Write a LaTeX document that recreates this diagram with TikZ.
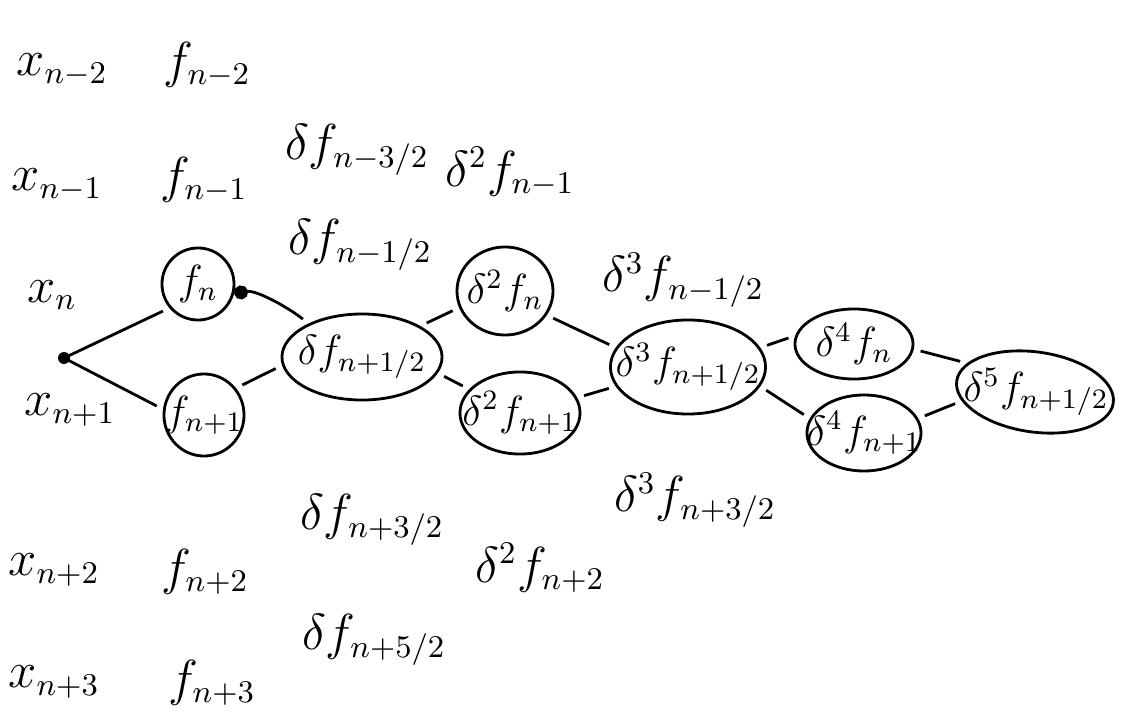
\documentclass[tikz,border=0pt]{standalone}
\usetikzlibrary{arrows.meta,shapes.geometric}
\begin{document}
\begin{tikzpicture}[x=0.01cm,y=-0.01cm,
  lbl/.style={inner sep=1pt,font=\fontsize{13.5}{16}\selectfont},
  inlbl/.style={inner sep=1pt,font=\fontsize{12}{14}\selectfont},
  ring/.style={draw,line width=0.8pt,shape=ellipse,inner sep=0pt},
  link/.style={line width=0.8pt,shorten <=2pt,shorten >=2pt}]
\useasboundingbox (0,0) rectangle (1144,718);
% column x
\node[lbl] (xm2) at (62,70) {$x_{n-2}$};
\node[lbl] (xm1) at (57,185) {$x_{n-1}$};
\node[lbl] (x0) at (52,295) {$x_{n}$};
\node[lbl] (x1) at (70,410) {$x_{n+1}$};
\node[lbl] (x2) at (54,570) {$x_{n+2}$};
\node[lbl] (x3) at (54,682) {$x_{n+3}$};
% column f
\node[lbl] (fm2) at (207,65) {$f_{n-2}$};
\node[lbl] (fm1) at (204,180) {$f_{n-1}$};
\node[ring,minimum width=0.72cm,minimum height=0.72cm] (f0o) at (198,284) {};
\node[inlbl] (f0) at (198,284) {$f_{n}$};
\node[ring,minimum width=0.8cm,minimum height=0.82cm] (f1o) at (204,415) {};
\node[inlbl] (f1) at (204,415) {$f_{n+1}$};
\node[lbl] (f2) at (205,572) {$f_{n+2}$};
\node[lbl] (f3) at (212,683) {$f_{n+3}$};
% first differences
\node[lbl] (dm32) at (357,150) {$\delta f_{n-3/2}$};
\node[lbl] (dm12) at (360,245) {$\delta f_{n-1/2}$};
\node[ring,minimum width=1.6cm,minimum height=0.86cm] (d12o) at (362,357) {};
\node[inlbl] (d12) at (362,357) {$\delta f_{n+1/2}$};
\node[lbl] (d32) at (372,520) {$\delta f_{n+3/2}$};
\node[lbl] (d52) at (374,640) {$\delta f_{n+5/2}$};
% second differences
\node[lbl] (em1) at (510,172) {$\delta^2 f_{n-1}$};
\node[ring,minimum width=0.96cm,minimum height=0.88cm] (e0o) at (505,291) {};
\node[inlbl] (e0) at (505,291) {$\delta^2 f_{n}$};
\node[ring,minimum width=1.2cm,minimum height=0.82cm] (e1o) at (520,413) {};
\node[inlbl] (e1) at (520,413) {$\delta^2 f_{n+1}$};
\node[lbl] (e2) at (540,568) {$\delta^2 f_{n+2}$};
% third differences
\node[lbl] (gm12) at (683,280) {$\delta^3 f_{n-1/2}$};
\node[ring,minimum width=1.55cm,minimum height=0.94cm] (g12o) at (688,367) {};
\node[inlbl] (g12) at (688,367) {$\delta^3 f_{n+1/2}$};
\node[lbl] (g32) at (695,500) {$\delta^3 f_{n+3/2}$};
% fourth
\node[ring,minimum width=1.18cm,minimum height=0.7cm] (h0o) at (854,344) {};
\node[inlbl] (h0) at (854,344) {$\delta^4 f_{n}$};
\node[ring,minimum width=1.14cm,minimum height=0.76cm] (h1o) at (864,433) {};
\node[inlbl] (h1) at (864,433) {$\delta^4 f_{n+1}$};
% fifth
\node[ring,minimum width=1.58cm,minimum height=0.8cm,rotate=-8] (k12o) at (1035,392) {};
\node[inlbl] (k12) at (1036,392) {$\delta^5 f_{n+1/2}$};
% dot
\coordinate (dot) at (64,358);
\fill (dot) circle [radius=6];
% connectors
\draw[link,shorten <=0pt] (dot) -- (f0o.220);
\draw[link,shorten <=0pt] (dot) -- (f1o.172);
\draw[link,shorten >=0pt,-{Circle[length=4pt]}] (d12o.148) .. controls +(-20,-16) and +(22,-4) .. (f0o.-15);
\draw[link] (f1o.40) -- (d12o.186);
\draw[link] (d12o.28) -- (e0o.200);
\draw[link] (d12o.-12) -- (e1o.155);
\draw[link] (e0o.-30) -- (g12o.165);
\draw[link] (e1o.15) -- (g12o.195);
\draw[link] (g12o.15) -- (h0o.172);
\draw[link] (g12o.-15) -- (h1o.165);
\draw[link] (h0o.-5) -- (k12o.165);
\draw[link] (h1o.15) -- (k12o.195);
\end{tikzpicture}
\end{document}
